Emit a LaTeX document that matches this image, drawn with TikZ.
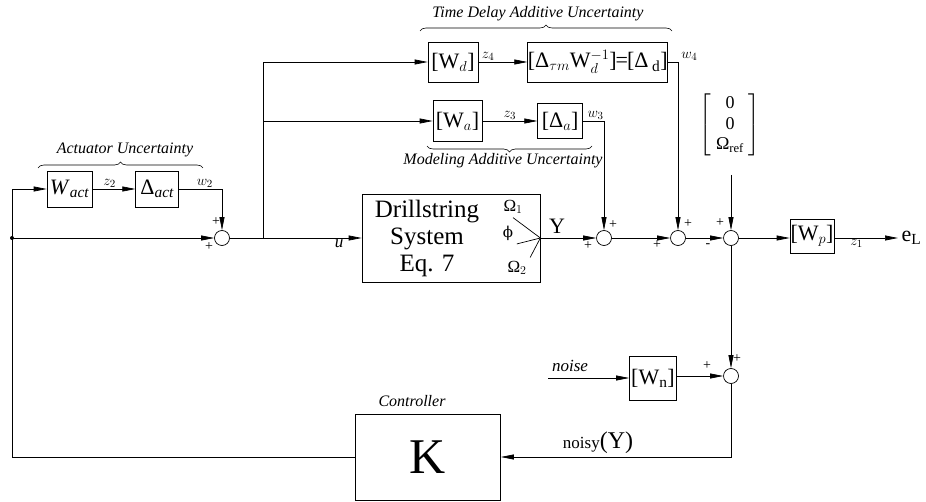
\documentclass[tikz,border=0pt]{standalone}
\usepackage{amsmath}
\usepackage{fontspec}
\setmainfont{Liberation Serif}
\newfontfamily\dvserif{DejaVu Serif}
\usetikzlibrary{arrows.meta,positioning,calc,decorations.pathreplacing}
\newcommand{\fsz}[1]{\fontsize{#1}{#1}\selectfont}

\begin{document}
\begin{tikzpicture}[
    x=1pt, y=-1pt,
    >={Triangle[length=13pt,width=5pt]},
    line width=0.7pt,
    node distance=43pt,
    blk/.style={draw, inner sep=0pt, font=\fsz{22}},
    sumj/.style={draw, circle, minimum size=15pt, inner sep=0pt},
    sgn/.style={font=\fsz{14}, inner sep=0pt},
    sig/.style={font=\fsz{15}, inner sep=1pt},
    grp/.style={font=\itshape\fsz{16}},
    brc/.style={decorate, decoration={brace, amplitude=6pt}, line width=0.6pt}
]
\useasboundingbox (0,0) rectangle (926,502);
% uncertainty blocks
\node[blk, minimum width=45pt, minimum height=36pt] (wact) at (69.5,189) {\textit{W}\textsubscript{\itshape act}};
\node[blk, minimum width=43pt, minimum height=36pt, right=of wact] (dact) {Δ\textsubscript{\itshape act}};
\node[blk, minimum width=50pt, minimum height=40pt] (wd) at (453,62) {[W$_d$]};
\node[blk, minimum width=140pt, minimum height=40pt, right=49pt of wd] (dd) {[Δ$_{\tau m}$W$_d^{-1}$]\kern-1pt=\kern-1pt[Δ$\,_{\mathrm{d}}$]};
\node[blk, minimum width=49pt, minimum height=41pt] (wa) at (457.5,121) {[W$_a$]};
\node[blk, minimum width=45pt, minimum height=35pt, right=55pt of wa] (da) {[Δ$_a$]};
% plant
\node[draw, minimum width=178pt, minimum height=88pt] (plant) at (451,238) {};
\node[font=\fsz{25}, align=center] (ptxt) at (427,238) {Drillstring\\[2pt]System\\[2pt]Eq. 7};
\node[font=\fsz{17}] (om1) at (513,207) {Ω$_1$};
\node[font=\dvserif\fsz{15}] (phi) at (508,233) {ϕ};
\node[font=\fsz{17}] (om2) at (517,268) {Ω$_2$};
\coordinate (yo) at (plant.east);
\node[font=\fsz{22}] (ylbl) at (557,226) {Y};
% junctions
\node[sumj] (ja) at (222,238) {};
\node[sumj] (j1) at (604,238) {};
\node[sumj] (j2) at (678,238) {};
\node[sumj] (j3) at (731,238) {};
\node[sumj] (jn) at (731,376) {};
\node[sgn] (ja1) at ($(ja)+(-6,-16)$) {+};
\node[sgn] (ja2) at ($(ja)+(-13,9)$) {+};
\node[sgn] (j1a) at ($(j1)+(9,-13)$) {+};
\node[sgn] (j1b) at ($(j1)+(-16,8)$) {+};
\node[sgn] (j2a) at ($(j2)+(10,-14)$) {+};
\node[sgn] (j2b) at ($(j2)+(-21,7)$) {+};
\node[sgn] (j3a) at ($(j3)+(-11,-15)$) {+};
\node[sgn] (j3b) at ($(j3)+(-23,8)$) {-};
\node[sgn] (jna) at ($(jn)+(6,-17)$) {+};
\node[sgn] (jnb) at ($(jn)+(-24,-10)$) {+};
% reference, weights, controller
\node[font=\fsz{18}] (refv) at (730,125) {$\renewcommand{\arraystretch}{1.15}\left[\begin{array}{c}\mbox{0}\\\mbox{0}\\\mbox{Ω\textsubscript{ref}}\end{array}\right]$};
\coordinate (refin) at (731,175);
\node[blk, minimum width=44pt, minimum height=34pt] (wp) at (812,236) {[W$_p$]};
\node[font=\fsz{22}, anchor=west] (el) at (898,238) {e\textsubscript{L}};
\node[blk, minimum width=47pt, minimum height=44pt] (wn) at (653,378) {[W$_\mathrm{n}$]};
\node[font=\itshape\fsz{17}] (nlbl) at (570,366) {noise};
\coordinate (nsrc) at (548,378);
\node[draw, minimum width=145pt, minimum height=86pt, font=\fsz{50}] (ctrl) at (428,457) {K};
\node[grp, above=3pt of ctrl, xshift=-16pt] (ctrllbl) {Controller};
\node[font=\fsz{17}] (nylbl) at (598,443) {noisy{\fsz{24}(Y)}};
\coordinate (fbx) at (12,238);
\coordinate (ubr) at (263,238);
% signals
\draw[->] (fbx) |- (wact.west);
\draw[->] (wact) -- node[sig, above, pos=0.4] {$z_2$} (dact);
\draw[->] (dact.east) -| node[sig, above, pos=0.3] {$w_2$} (ja.north);
\draw[->] (fbx) -- (ja.west);
\fill (fbx) circle (2pt);
\draw[->] (ja.east) -- node[sig, below, pos=0.83, font=\itshape\fsz{17}] {u} (plant.west);
\draw[->] (ubr) |- (wd.west);
\draw[->] (ubr |- wa.west) -- (wa.west);
\draw[->] (wd) -- node[sig, above, pos=0.2] {$z_4$} (dd);
\draw[->] (dd.east) -| node[sig, anchor=south west, pos=0.5, xshift=2pt] {$w_4$} (j2.north);
\draw[->] (wa) -- node[sig, above] {$z_3$} (da);
\draw[->] (da.east) -| node[sig, above, pos=0.3] {$w_3$} (j1.north);
\draw (om1.south) -- (yo);
\draw (phi.south east) -- (yo);
\draw (om2.north east) -- (yo);
\draw[->] (yo) -- (j1.west);
\draw[->] (j1) -- (j2);
\draw[->] (j2) -- (j3);
\draw[->] (refin) -- (j3.north);
\draw[->] (j3) -- (wp.west |- j3);
\draw[->] (wp.east |- j3) -- node[sig, below, pos=0.35] {$z_1$} (el.west);
\draw[->] (j3) -- (jn);
\draw[->] (nsrc) -- (wn.west);
\draw[->] (wn.east |- jn) -- (jn.west);
\draw[->] (jn.south) |- (ctrl.east);
\draw (ctrl.west) -| (fbx);
% braces
\draw[brc] (38,168) -- (203,168);
\node[grp] (actlbl) at (125,150) {Actuator Uncertainty};
\draw[brc] (420,31) -- (672,31);
\node[grp] (tdlbl) at (538,14) {Time Delay Additive Uncertainty};
\draw[brc] (592,146) -- (427,146);
\node[grp] (modlbl) at (503,161) {Modeling Additive Uncertainty};
\end{tikzpicture}
\end{document}
